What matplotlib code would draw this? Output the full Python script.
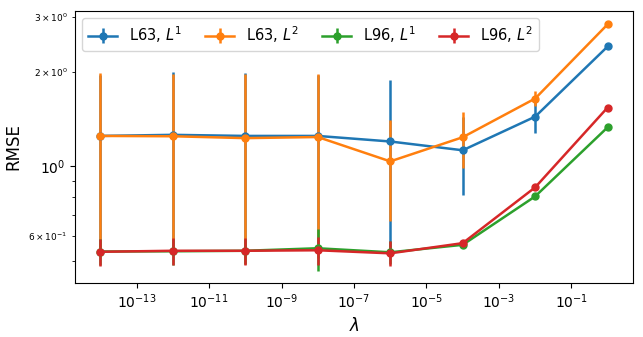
import matplotlib
matplotlib.use("Agg")
import matplotlib.pyplot as plt
from matplotlib.ticker import NullLocator
import numpy as np

lambdas = [1e-14, 1e-12, 1e-10, 1e-8, 1e-6, 1e-4, 1e-2, 1e0]

l63_l1 = [1.25, 1.26, 1.25, 1.25, 1.20, 1.125, 1.44, 2.41]
l63_l1_err = [0.70, 0.74, 0.73, 0.70, 0.68, 0.313, 0.165, 0.02]

l63_l2 = [1.25, 1.247, 1.23, 1.24, 1.037, 1.238, 1.645, 2.836]
l63_l2_err = [0.73, 0.72, 0.74, 0.73, 0.367, 0.25, 0.09, 0.02]

l96_l1 = [0.535, 0.536, 0.538, 0.548, 0.532, 0.562, 0.802, 1.332]
l96_l1_err = [0.05, 0.05, 0.05, 0.083, 0.045, 0.01, 0.005, 0.005]

l96_l2 = [0.534, 0.538, 0.538, 0.540, 0.528, 0.569, 0.857, 1.54]
l96_l2_err = [0.053, 0.054, 0.054, 0.054, 0.048, 0.01, 0.005, 0.005]

labels = [r"L63, $L^1$", r"L63, $L^2$", r"L96, $L^1$", r"L96, $L^2$"]
colors = ["#1f77b4", "#ff7f0e", "#2ca02c", "#d62728"]

fig = plt.figure(figsize=(6.43, 3.37), dpi=100)
ax = fig.add_axes([75/643, 1-283/337, (633-75)/643, (283-11)/337])

series = [(l63_l1, l63_l1_err), (l63_l2, l63_l2_err), (l96_l1, l96_l1_err), (l96_l2, l96_l2_err)]
for (vals, errs), lab, c in zip(series, labels, colors):
    ax.errorbar(lambdas, vals, yerr=errs, marker="o", markersize=5, lw=1.8,
                elinewidth=1.8, color=c, label=lab)

ax.set_xscale("log")
ax.set_yscale("log")
ax.set_xticks([1e-13, 1e-11, 1e-9, 1e-7, 1e-5, 1e-3, 1e-1])
ax.xaxis.set_minor_locator(NullLocator())
ax.tick_params(axis="both", which="major", labelsize=10)
ax.tick_params(axis="y", which="minor", labelsize=6.5)
ax.set_xlabel(r"$\lambda$", fontsize=12)
ax.set_ylabel("RMSE", fontsize=12)
ax.legend(loc="upper left", ncol=4, fontsize=10.5, columnspacing=1.6, handlelength=2.0)

fig.savefig("out.png", dpi=100)
